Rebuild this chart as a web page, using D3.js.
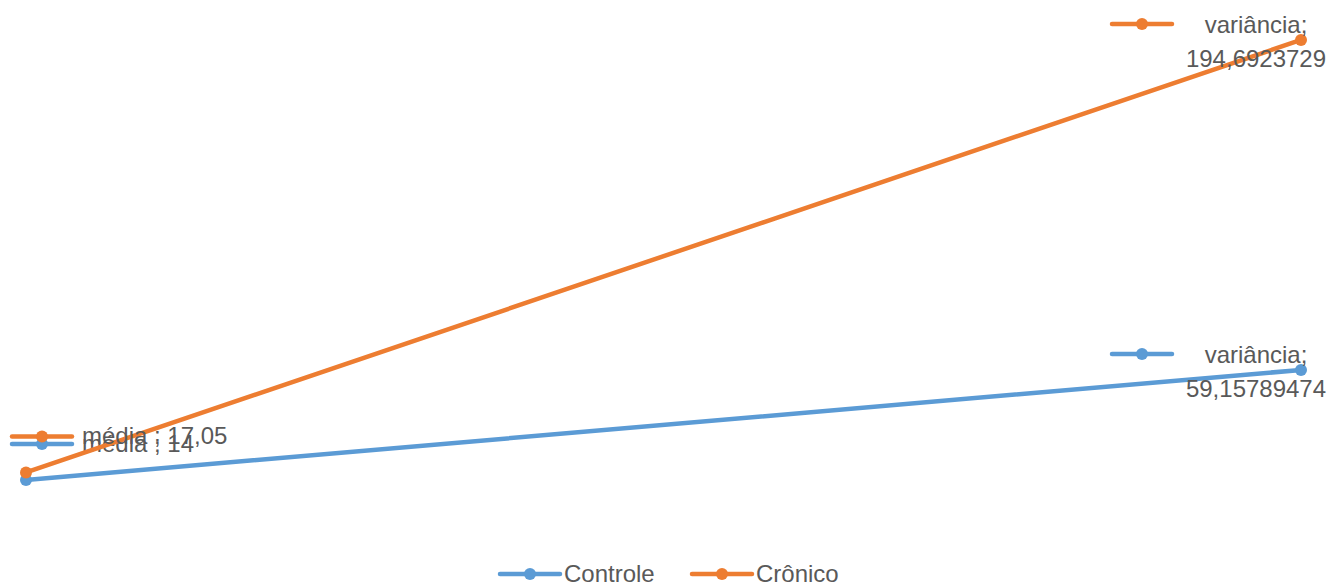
<!DOCTYPE html>
<html>
<head>
<meta charset="utf-8">
<script src="https://cdn.jsdelivr.net/npm/d3@7"></script>
<style>
  body { margin: 0; background: #fff; }
  text { font-family: "Liberation Sans", Arial, sans-serif; fill: #595959; }
</style>
</head>
<body>
<div id="chart"></div>
<script>
const categories = ["média", "variância"];
const seriesNames = ["Controle", "Crônico"];
const controle = [14, 59.15789474];
const cronico = [17.05, 194.6923729];
const labelTexts = [
  ["média ; 14", "variância;|59,15789474"],
  ["média ; 17,05", "variância;|194,6923729"]
];
const colors = ["#5B9BD5", "#ED7D31"];

const width = 1333, height = 585;

const svg = d3.select("#chart").append("svg")
  .attr("width", width)
  .attr("height", height);

const x = d3.scalePoint().domain(categories).range([26, 1301]);
const y = d3.scaleLinear().domain([0, 200]).range([514, 27]);

const data = [controle, cronico].map((vals, i) => ({
  name: seriesNames[i],
  color: colors[i],
  labels: labelTexts[i],
  points: vals.map((v, j) => ({ cat: categories[j], value: v }))
}));

const line = d3.line().x(d => x(d.cat)).y(d => y(d.value));

function drawKey(g, cx, cy, color) {
  g.append("line")
    .attr("x1", cx - 30).attr("x2", cx + 30)
    .attr("y1", cy).attr("y2", cy)
    .attr("stroke", color).attr("stroke-width", 4.5)
    .attr("stroke-linecap", "round");
  g.append("circle")
    .attr("cx", cx).attr("cy", cy).attr("r", 6)
    .attr("fill", color);
}

const series = svg.selectAll("g.series").data(data).enter()
  .append("g").attr("class", "series");

series.append("path")
  .attr("d", d => line(d.points))
  .attr("fill", "none")
  .attr("stroke", d => d.color)
  .attr("stroke-width", 4.5)
  .attr("stroke-linecap", "round");

series.each(function(d) {
  const g = d3.select(this);
  g.selectAll("circle.pt").data(d.points).enter()
    .append("circle").attr("class", "pt")
    .attr("cx", p => x(p.cat))
    .attr("cy", p => y(p.value))
    .attr("r", 6)
    .attr("fill", d.color);

  // data labels with legend keys
  d.points.forEach((p, j) => {
    const px = x(p.cat), py = y(p.value);
    const lg = g.append("g");
    if (j === 0) {
      const ky = py - 36;
      drawKey(lg, px + 16, ky, d.color);
      lg.append("text")
        .attr("x", px + 56).attr("y", ky + 8)
        .attr("font-size", 24)
        .text(d.labels[j]);
    } else {
      const parts = d.labels[j].split("|");
      drawKey(lg, px - 159, py - 16, d.color);
      lg.append("text")
        .attr("x", px - 45).attr("y", py - 7)
        .attr("font-size", 24)
        .attr("text-anchor", "middle")
        .text(parts[0]);
      lg.append("text")
        .attr("x", px - 45).attr("y", py + 27)
        .attr("font-size", 24)
        .attr("text-anchor", "middle")
        .text(parts[1]);
    }
  });
});

// legend
const legendX = [530, 722];
const legend = svg.selectAll("g.legend").data(data).enter()
  .append("g").attr("class", "legend");
legend.each(function(d, i) {
  const g = d3.select(this);
  drawKey(g, legendX[i], 574, d.color);
  g.append("text")
    .attr("x", legendX[i] + 34).attr("y", 582)
    .attr("font-size", 24)
    .text(d.name);
});
</script>
</body>
</html>
